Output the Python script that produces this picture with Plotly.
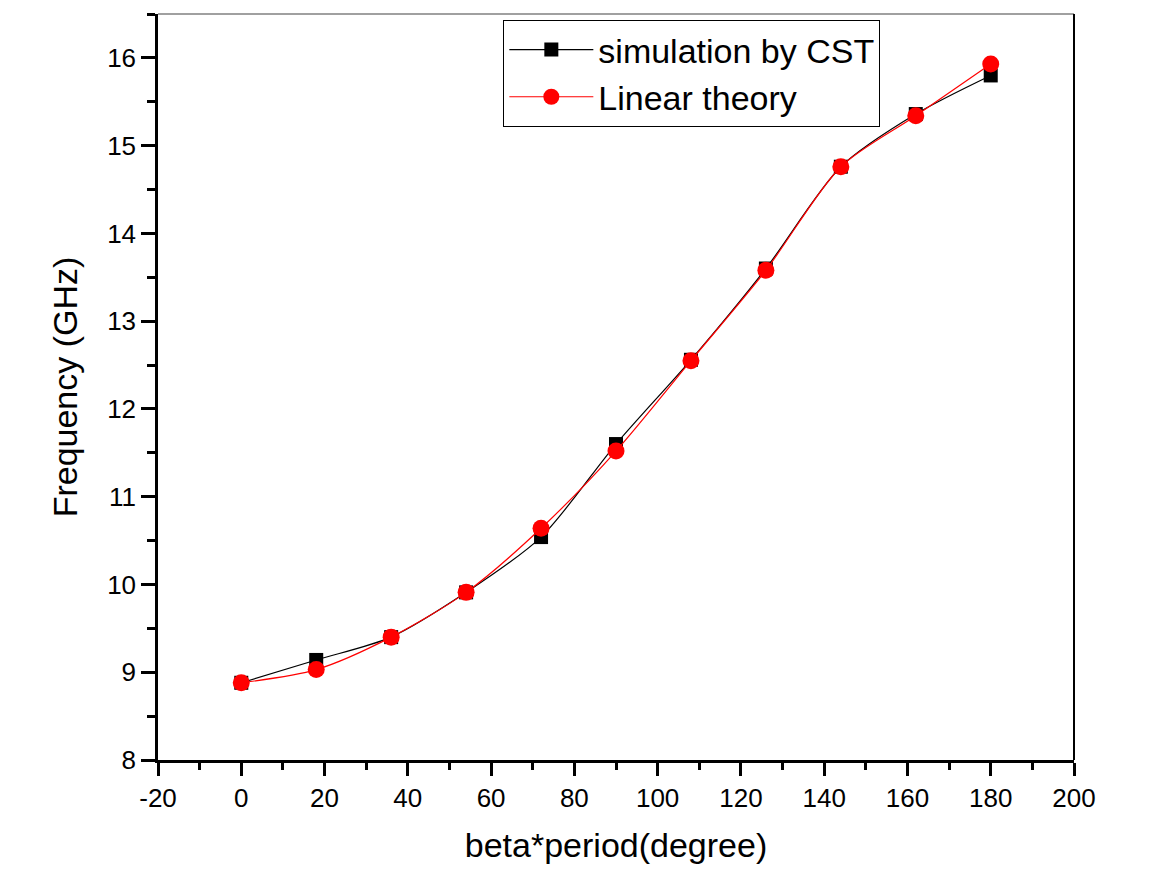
import plotly.graph_objects as go

beta_period = [0, 18, 36, 54, 72, 90, 108, 126, 144, 162, 180]
sim_cst = [8.88, 9.14, 9.40, 9.91, 10.54, 11.60, 12.56, 13.60, 14.76, 15.36, 15.80]
linear_theory = [8.88, 9.03, 9.40, 9.91, 10.64, 11.52, 12.55, 13.58, 14.76, 15.34, 15.93]

x_tick_vals = [-20, 0, 20, 40, 60, 80, 100, 120, 140, 160, 180, 200]
x_tick_text = ["-20", "0", "20", "40", "60", "80", "100", "120", "140", "160", "180", "200"]

fig = go.Figure()
fig.add_trace(go.Scatter(
    x=beta_period, y=sim_cst, mode="lines+markers", name="simulation by CST",
    line=dict(color="black", width=1.2, shape="spline", smoothing=0.8),
    marker=dict(symbol="square", size=14, color="black"),
))
fig.add_trace(go.Scatter(
    x=beta_period, y=linear_theory, mode="lines+markers", name="Linear theory",
    line=dict(color="red", width=1.2, shape="spline", smoothing=0.8),
    marker=dict(symbol="circle", size=17, color="red"),
))

axis_font = dict(family="Liberation Sans, Arial", size=26, color="black")
title_font = dict(family="Liberation Sans, Arial", size=34, color="black")
fig.update_layout(
    width=1161, height=888,
    margin=dict(l=150, r=95, t=6, b=136),
    paper_bgcolor="white", plot_bgcolor="white",
    font=dict(family="Liberation Sans, Arial", color="black"),
    showlegend=True,
    legend=dict(
        x=0.377, y=0.992, xanchor="left", yanchor="top",
        font=dict(family="Liberation Sans, Arial", size=34, color="black"),
        bordercolor="black", borderwidth=1, bgcolor="white",
        itemwidth=84, tracegroupgap=0,
    ),
    xaxis=dict(
        range=[-20, 200], tickmode="array", tickvals=x_tick_vals, ticktext=x_tick_text,
        showgrid=False, zeroline=False,
        showline=True, linecolor="black", linewidth=2.5,
        ticks="outside", ticklen=13, tickwidth=2.5, tickcolor="black",
        tickfont=axis_font,
        minor=dict(tickmode="linear", dtick=10, tick0=-20, ticks="outside", ticklen=7, tickwidth=2.5, tickcolor="black", showgrid=False),
        title=dict(text="beta*period(degree)", font=title_font, standoff=22),
        automargin=False,
    ),
    yaxis=dict(
        range=[8, 16.5], tickmode="linear", tick0=8, dtick=1,
        showgrid=False, zeroline=False,
        showline=True, linecolor="black", linewidth=2.5,
        ticks="outside", ticklen=14, tickwidth=2.5, tickcolor="black",
        tickfont=axis_font,
        minor=dict(dtick=0.5, tick0=8, ticks="outside", ticklen=8, tickwidth=2.5, tickcolor="black", showgrid=False),
        title=dict(text="Frequency (GHz)", font=title_font, standoff=20),
        automargin=False,
    ),
    shapes=[
        dict(type="line", xref="paper", yref="paper", x0=0, x1=1, y0=1, y1=1,
             line=dict(color="#808080", width=1.5)),
        dict(type="line", xref="paper", yref="paper", x0=1, x1=1, y0=0, y1=1,
             line=dict(color="black", width=2)),
    ],
)

fig.write_html("out.html")
